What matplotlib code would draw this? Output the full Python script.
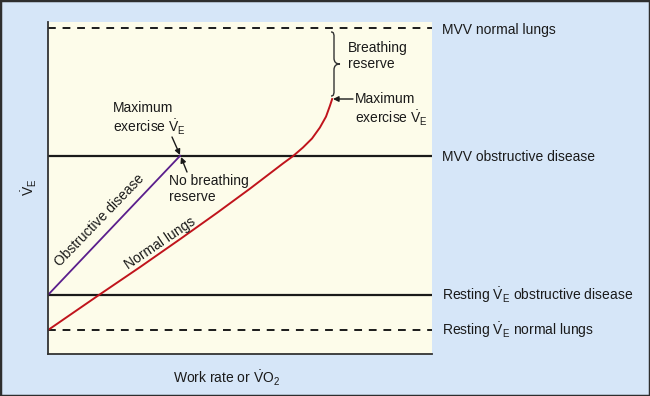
import matplotlib
matplotlib.use("Agg")
import matplotlib.pyplot as plt
from matplotlib.patches import Rectangle, PathPatch
from matplotlib.path import Path

plt.rcParams['font.family'] = ['Liberation Sans', 'DejaVu Sans']
plt.rcParams['mathtext.fontset'] = 'custom'
plt.rcParams['mathtext.rm'] = 'Liberation Sans'
plt.rcParams['mathtext.it'] = 'Liberation Sans:italic'

# reference levels (arbitrary units, 0-100)
mvv_normal = 98.2
mvv_obstructive = 59.7
rest_obstructive = 17.8
rest_normal = 7.2

# normal lungs: work rate vs ventilation
normal_x = [0, 13.3, 24.0, 34.4, 44.0, 52.6, 61.2, 63.8, 66.4, 68.75, 70.8, 72.4, 73.4, 74.0]
normal_y = [7.2, 17.8, 26.2, 34.6, 42.5, 49.8, 57.4, 59.6, 62.2, 64.9, 68.2, 71.5, 74.7, 76.8]

# obstructive disease
obstr_x = [0, 34.4]
obstr_y = [17.8, 59.7]

VE = r'$\dot{\mathrm{V}}_{\mathrm{E}}$'

W, H = 650, 396
fig = plt.figure(figsize=(6.5, 3.96), dpi=100)
fig.patch.set_facecolor('#d6e6f8')

# pixel helpers (origin top-left)
def fx(px):
    return px / W

def fy(py):
    return 1 - py / H

def dx(px):
    return (px - 48) / 384 * 100

def dy(py):
    return (354 - py) / 332 * 100

ax = fig.add_axes([fx(48), fy(354), 384 / W, 332 / H])
ax.set_facecolor('#fdfcea')
ax.set_xlim(0, 100)
ax.set_ylim(0, 100)
ax.set_xticks([])
ax.set_yticks([])
for s in ['top', 'right']:
    ax.spines[s].set_visible(False)
for s in ['left', 'bottom']:
    ax.spines[s].set_color('#333333')
    ax.spines[s].set_linewidth(1.3)

dash = (0, (4, 3.5))
ax.axhline(mvv_normal, color='#1a1a1a', lw=1.4, linestyle=dash)
ax.axhline(mvv_obstructive, color='#1a1a1a', lw=1.6)
ax.axhline(rest_obstructive, color='#1a1a1a', lw=1.6)
ax.axhline(rest_normal, color='#1a1a1a', lw=1.4, linestyle=dash)

ax.plot(obstr_x, obstr_y, color='#5a1e8c', lw=1.3)
ax.plot(normal_x, normal_y, color='#c0141c', lw=1.4)

fs = 10
tc = '#1a1a1a'

# right-side labels
fig.text(fx(442), fy(30), 'MVV normal lungs', fontsize=fs, color=tc, va='center')
fig.text(fx(442), fy(157), 'MVV obstructive disease', fontsize=fs, color=tc, va='center')
fig.text(fx(442), fy(295), 'Resting ' + VE + ' obstructive disease', fontsize=fs, color=tc, va='center')
fig.text(fx(442), fy(330), 'Resting ' + VE + ' normal lungs', fontsize=fs, color=tc, va='center')

# axis labels
fig.text(fx(29), fy(187), VE, fontsize=fs, color=tc, rotation=90, ha='center', va='center')
fig.text(fx(227), fy(378), r'Work rate or $\dot{\mathrm{V}}\mathrm{O}_{2}$', fontsize=fs, color=tc,
         ha='center', va='center')

# line labels
ax.text(dx(100), dy(220), 'Obstructive disease', fontsize=fs, color=tc, rotation=46,
        ha='center', va='center', rotation_mode='anchor')
ax.text(dx(160), dy(243), 'Normal lungs', fontsize=fs, color=tc, rotation=34,
        ha='center', va='center', rotation_mode='anchor')

# breathing reserve brace
ax.text(dx(348), dy(56), 'Breathing\nreserve', fontsize=fs, color=tc, va='center', ha='left',
        linespacing=1.15)
bp = [(331, 32), (334, 32), (334, 34), (334, 38), (334, 58), (334, 62), (336, 64), (340, 64),
      (336, 64), (334, 66), (334, 70), (334, 90), (334, 94), (334, 96), (331, 96)]
codes = [Path.MOVETO, Path.CURVE4, Path.CURVE4, Path.CURVE4, Path.LINETO,
         Path.CURVE4, Path.CURVE4, Path.CURVE4, Path.CURVE4, Path.CURVE4, Path.CURVE4,
         Path.LINETO, Path.CURVE4, Path.CURVE4, Path.CURVE4]
brace = Path([(dx(p[0]), dy(p[1])) for p in bp], codes)
ax.add_patch(PathPatch(brace, fill=False, edgecolor='#333333', lw=1.0))

arrow = dict(arrowstyle='-|>', color='#1a1a1a', lw=1.0, mutation_scale=8, shrinkA=0, shrinkB=0)

# maximum exercise, normal lungs
ax.text(dx(355), dy(110), 'Maximum\nexercise ' + VE, fontsize=fs, color=tc, va='center', ha='left',
        linespacing=1.15)
ax.annotate('', xy=(dx(333), dy(99)), xytext=(dx(353), dy(99)), arrowprops=arrow)

# maximum exercise, obstructive disease
ax.text(dx(113), dy(119), 'Maximum\nexercise ' + VE, fontsize=fs, color=tc, va='center', ha='left',
        linespacing=1.15)
ax.annotate('', xy=(dx(180), dy(155)), xytext=(dx(172), dy(137)), arrowprops=arrow)

ax.text(dx(169), dy(189), 'No breathing\nreserve', fontsize=fs, color=tc, va='center', ha='left',
        linespacing=1.15)
ax.annotate('', xy=(dx(181), dy(157)), xytext=(dx(187), dy(172)), arrowprops=arrow)

fig.patches.append(Rectangle((0, 0), 1, 1, transform=fig.transFigure, fill=False,
                             edgecolor='#2e2e2e', lw=2.5))

fig.savefig('out.png', dpi=100, facecolor=fig.get_facecolor())
